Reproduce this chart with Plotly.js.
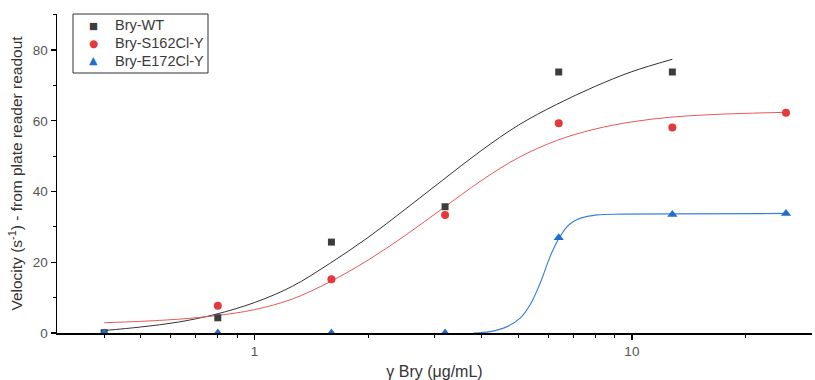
<!DOCTYPE html>
<html>
<head>
<meta charset="utf-8">
<script src="https://cdn.plot.ly/plotly-3.0.1.min.js"></script>
<style>html,body{margin:0;padding:0;background:#fff;}#chart{width:815px;height:380px;}</style>
</head>
<body>
<div id="chart"></div>
<script>
// Measured data points
const conc = [0.4, 0.8, 1.6, 3.2, 6.4, 12.8, 25.6];
const wtX = [0.4, 0.8, 1.6, 3.2, 6.4, 12.8];
const wtY = [0.1, 4.3, 25.7, 35.7, 73.8, 73.8];
const s162X = [0.8, 1.6, 3.2, 6.4, 12.8, 25.6];
const s162Y = [7.7, 15.2, 33.4, 59.3, 58.1, 62.3];
const e172Y = [0.0, 0.0, 0.0, 0.0, 26.9, 33.5, 33.8];

// Fitted curves
const wtFitX = [0.4, 0.5, 0.63, 0.79, 1.0, 1.26, 1.58, 2.0, 2.51, 3.16, 3.98, 5.01, 6.31, 7.94, 10.0, 12.8];
const wtFitY = [0.7, 1.7, 3.1, 5.3, 8.6, 13.2, 19.6, 27.0, 35.0, 43.3, 51.5, 58.8, 64.6, 69.6, 73.9, 77.4];
const s162FitX = [0.4, 0.5, 0.63, 0.79, 1.0, 1.26, 1.58, 2.0, 2.51, 3.16, 3.98, 5.01, 6.31, 7.94, 10.0, 12.6, 15.85, 19.95, 25.6];
const s162FitY = [2.9, 3.3, 3.9, 4.9, 6.6, 9.6, 14.4, 20.6, 27.6, 35.3, 43.0, 49.6, 54.4, 57.6, 59.7, 61.0, 61.7, 62.1, 62.4];
const e172FitX = [3.8, 4.21, 4.67, 5.06, 5.37, 5.71, 6.07, 6.24, 6.41, 6.73, 7.0, 7.28, 8.08, 9.47, 12.8, 25.6];
const e172FitY = [0.0, 0.4, 1.8, 4.2, 7.9, 14.0, 21.6, 24.4, 26.8, 30.0, 31.5, 32.4, 33.4, 33.6, 33.7, 33.8];

const xTickVals = [1, 10];
const xTickText = ['1', '10'];
const xMinorVals = [0.4, 0.5, 0.6, 0.7, 0.8, 0.9, 2, 3, 4, 5, 6, 7, 8, 9, 20];
const yTickVals = [0, 20, 40, 60, 80];
const yMinorVals = [10, 30, 50, 70, 90];

const seriesNames = ['Bry-WT', 'Bry-S162Cl-Y', 'Bry-E172Cl-Y'];
const legendGlyphs = ['■', '●', '▲'];
const cWT = '#3d3d3d', cS = '#e5383b', cE = '#1f6fd0';
const seriesColors = [cWT, cS, cE];

const traces = [
  {x: wtFitX, y: wtFitY, mode: 'lines', line: {color: '#333333', width: 1, shape: 'spline'}, showlegend: false, hoverinfo: 'skip'},
  {x: s162FitX, y: s162FitY, mode: 'lines', line: {color: '#e8585b', width: 1, shape: 'spline'}, showlegend: false, hoverinfo: 'skip'},
  {x: e172FitX, y: e172FitY, mode: 'lines', line: {color: '#3b82d6', width: 1.2, shape: 'spline'}, showlegend: false, hoverinfo: 'skip'},
  {x: wtX, y: wtY, mode: 'markers', name: seriesNames[0], showlegend: false, marker: {symbol: 'square', size: 7, color: cWT}},
  {x: s162X, y: s162Y, mode: 'markers', name: seriesNames[1], showlegend: false, marker: {symbol: 'circle', size: 8, color: cS}},
  {x: conc, y: e172Y, mode: 'markers', name: seriesNames[2], showlegend: false, marker: {symbol: 'triangle-up', size: 9, color: cE}}
];

// Legend box (drawn with a shape and text annotations)
const legX0 = 0.0212, legX1 = 0.2, legY0 = 0.815, legY1 = 1.0;
const legItemY = [0.9655, 0.909, 0.8527];
const annotations = [];
seriesNames.forEach((n, i) => {
  annotations.push({xref: 'paper', yref: 'paper', x: 0.0477, y: legItemY[i], xanchor: 'center', yanchor: 'middle',
    text: legendGlyphs[i], showarrow: false,
    font: {family: 'DejaVu Sans', size: [9.5, 10.5, 11][i], color: seriesColors[i]}});
  annotations.push({xref: 'paper', yref: 'paper', x: 0.0742, y: legItemY[i], xanchor: 'left', yanchor: 'middle',
    text: n, showarrow: false, font: {family: 'Liberation Sans, Arial, sans-serif', size: 14.5, color: '#3a3a3a'}});
});

const layout = {
  width: 815, height: 380,
  margin: {l: 57, r: 3, t: 14, b: 47},
  paper_bgcolor: '#fff', plot_bgcolor: '#fff',
  font: {family: 'Liberation Sans, Arial, sans-serif', size: 13, color: '#444'},
  showlegend: false,
  shapes: [{type: 'rect', xref: 'paper', yref: 'paper', x0: legX0, x1: legX1, y0: legY0, y1: legY1,
            line: {color: '#333', width: 1}, fillcolor: 'rgba(0,0,0,0)'}],
  annotations: annotations,
  xaxis: {
    type: 'log', range: [Math.log10(0.3), Math.log10(30)],
    tickmode: 'array', tickvals: xTickVals, ticktext: xTickText,
    ticks: 'outside', ticklen: 5, tickwidth: 1.3, tickcolor: '#000',
    minor: {tickmode: 'array', tickvals: xMinorVals, ticks: 'outside', ticklen: 3, tickwidth: 1, tickcolor: '#000'},
    showline: true, linecolor: '#000', linewidth: 1.5, showgrid: false, zeroline: false,
    tickfont: {size: 13.5, color: '#555'},
    title: {text: 'γ Bry (μg/mL)', font: {size: 16, color: '#333'}, standoff: 10}
  },
  yaxis: {
    range: [0, 90.2],
    tickmode: 'array', tickvals: yTickVals,
    ticks: 'outside', ticklen: 5, tickwidth: 1.3, tickcolor: '#000',
    minor: {tickmode: 'array', tickvals: yMinorVals, ticks: 'outside', ticklen: 3, tickwidth: 1, tickcolor: '#000'},
    showline: true, linecolor: '#000', linewidth: 1.5, showgrid: false, zeroline: false,
    tickfont: {size: 13.5, color: '#555'},
    title: {text: 'Velocity (s<sup>-1</sup>) - from plate reader readout', font: {size: 15.5, color: '#333'}, standoff: 6}
  }
};

Plotly.newPlot('chart', traces, layout, {displayModeBar: false, staticPlot: true});
</script>
</body>
</html>
